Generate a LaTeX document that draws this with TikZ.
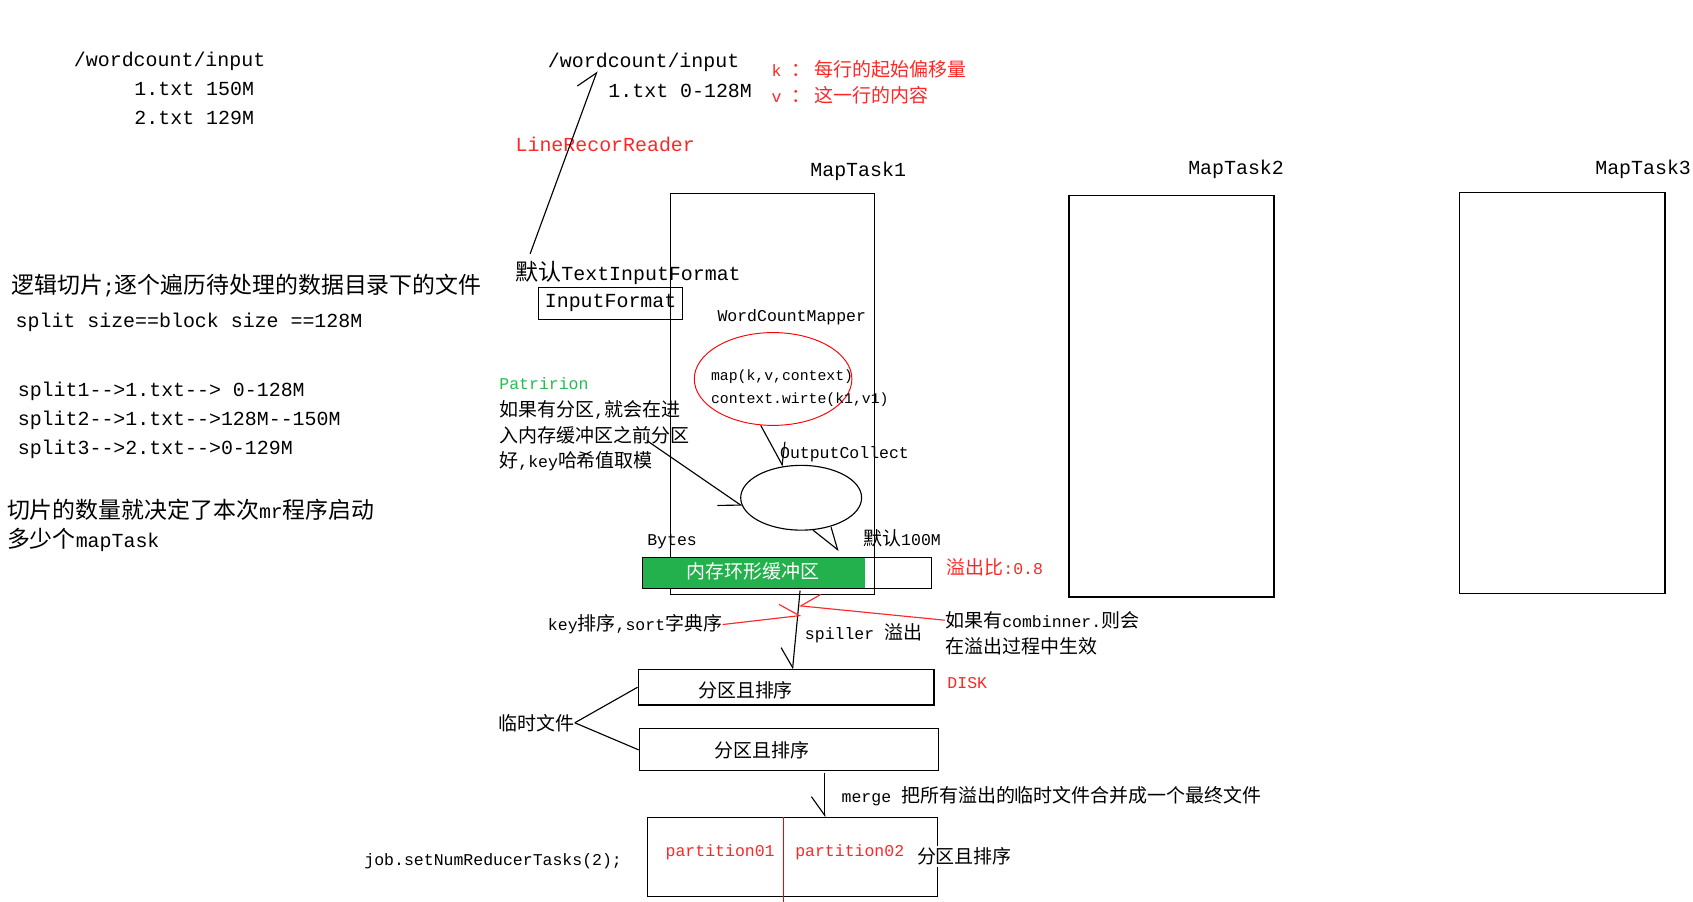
\documentclass[tikz,border=0pt]{standalone}
\usepackage{fontspec}
\setmonofont{Liberation Mono}
\newfontfamily\cjk[Scale=1.15]{Noto Sans CJK SC}
\newcommand{\zh}[1]{{\cjk #1}}
\usetikzlibrary{arrows.meta,shapes.geometric}
\definecolor{bufgreen}{RGB}{34,177,76}
\definecolor{notered}{RGB}{255,38,38}
\definecolor{notegreen}{RGB}{34,190,80}

\tikzset{
  txt/.style={anchor=west, inner sep=0pt, yshift=-0.8pt},
  bigtxt/.style={txt, font=\ttfamily\fontsize{10.5}{12}\selectfont},
  smalltxt/.style={txt, font=\ttfamily\fontsize{8.7}{10}\selectfont},
  tinytxt/.style={txt, font=\ttfamily\fontsize{7.8}{9}\selectfont},
  taskbox/.style={draw, inner sep=0pt},
  barbl/.style={-{Straight Barb[left, length=3.5mm, width=5mm]}},
  barbr/.style={-{Straight Barb[right, length=3.5mm, width=5mm]}},
}

\begin{document}
\begin{tikzpicture}[x=0.02cm, y=-0.02cm, line width=0.6pt]
\useasboundingbox (0,0) rectangle (1568,835);

% input files and splits
\node[bigtxt] (in0) at (68,55) {/wordcount/input};
\node[bigtxt] (f1) at (124,81) {1.txt 150M};
\node[bigtxt] (f2) at (124,108) {2.txt 129M};
\node[bigtxt] (cut) at (10,263) {\zh{逻辑切片};\zh{逐个遍历待处理的数据目录下的文件}};
\node[bigtxt] (ssize) at (14,297) {split size==block size ==128M};
\node[bigtxt] (s1) at (16,361) {split1-->1.txt--> 0-128M};
\node[bigtxt] (s2) at (16,388) {split2-->1.txt-->128M--150M};
\node[bigtxt] (s3) at (16,415) {split3-->2.txt-->0-129M};
\node[bigtxt] (num1) at (6,471) {\zh{切片的数量就决定了本次}mr\zh{程序启动}};
\node[bigtxt] (num2) at (6,499) {\zh{多少个}mapTask};

% reader
\node[bigtxt] (in1) at (507,56) {/wordcount/input};
\node[bigtxt] (blk) at (563,83) {1.txt 0-128M};
\node[smalltxt, text=notered] (kk) at (714,63) {k \zh{： 每行的起始偏移量}};
\node[smalltxt, text=notered] (vv) at (714,87) {v \zh{： 这一行的内容}};
\node[bigtxt, text=notered] (lrr) at (477,132) {LineRecorReader};

% map tasks
\node[taskbox, minimum width=3.78cm, minimum height=7.44cm] (task1) at (715.5,365) {};
\node[taskbox, minimum width=3.8cm, minimum height=7.44cm] (task2) at (1085,367) {};
\node[taskbox, minimum width=3.8cm, minimum height=7.44cm] (task3) at (1447,364) {};
\node[bigtxt] (mt1) at (750,157) {MapTask1};
\node[bigtxt] (mt2) at (1100,155) {MapTask2};
\node[bigtxt] (mt3) at (1477,155) {MapTask3};

\node[bigtxt] (tif) at (477,251) {\zh{默认}TextInputFormat};
\node[taskbox, minimum width=2.66cm, minimum height=0.6cm,
  font=\ttfamily\fontsize{10.5}{12}\selectfont] (infmt) at (565.5,281) {InputFormat};
\node[smalltxt] (wcm) at (664,292) {WordCountMapper};

\node[ellipse, draw=red, line width=0.5pt, minimum width=2.92cm, minimum height=1.72cm] (rmap) at (716,351) {};
\node[tinytxt] (map1) at (658,347) {map(k,v,context)};
\node[tinytxt] (map2) at (658,369) {context.wirte(k1,v1)};
\node[smalltxt] (oc) at (722,419) {OutputCollect};
\node[ellipse, draw, minimum width=2.24cm, minimum height=1.2cm] (coll) at (742,461) {};

\node[smalltxt, text=notegreen] (pat) at (462,354) {Patririon};
\node[smalltxt] (pat1) at (462,378) {\zh{如果有分区},\zh{就会在进}};
\node[smalltxt] (pat2) at (462,402) {\zh{入内存缓冲区之前分区}};
\node[smalltxt] (pat3) at (462,426) {\zh{好},key\zh{哈希值取模}};

% ring buffer
\fill[bufgreen] (595,516) rectangle (801,545);
\node[taskbox, minimum width=5.36cm, minimum height=0.58cm] (buf) at (729,530.5) {};
\node[smalltxt, text=white] (buftxt) at (635,528) {\zh{内存环形缓冲区}};
\node[smalltxt] (bytes) at (599,500) {Bytes};
\node[smalltxt] (m100) at (799,497) {\zh{默认}100M};
\node[smalltxt, text=notered] (ratio) at (876,524) {\zh{溢出比}:0.8};

% spill
\node[smalltxt] (key) at (507,577) {key\zh{排序},sort\zh{字典序}};
\node[smalltxt] (spill) at (745,585) {spiller \zh{溢出}};
\node[smalltxt] (comb) at (875,573) {\zh{如果有}combinner.\zh{则会}};
\node[smalltxt] (comb2) at (875,597) {\zh{在溢出过程中生效}};
\node[smalltxt, text=notered] (disk) at (877,631) {DISK};

\node[taskbox, minimum width=5.48cm, minimum height=0.66cm] (part1) at (728,636.5) {};
\node[taskbox, minimum width=5.54cm, minimum height=0.78cm] (part2) at (730.5,694.5) {};
\node[smalltxt] (p1txt) at (646,638) {\zh{分区且排序}};
\node[smalltxt] (p2txt) at (661,693) {\zh{分区且排序}};
\node[smalltxt] (tmp) at (461,668) {\zh{临时文件}};

% merge
\node[smalltxt] (mrg) at (779,736) {merge \zh{把所有溢出的临时文件合并成一个最终文件}};
\node[taskbox, minimum width=5.36cm, minimum height=1.46cm] (fin) at (734,793.5) {};
\coordinate (dv) at (726,835);
\draw[red] (dv |- fin.north) -- (dv);
\node[smalltxt, text=notered] (pt1) at (616,788) {partition01};
\node[smalltxt, text=notered] (pt2) at (736,788) {partition02};
\node[smalltxt, fill=white, inner sep=1pt] (fintxt) at (847,792) {\zh{分区且排序}};
\node[smalltxt] (job) at (337,796) {job.setNumReducerTasks(2);};

% connectors
\coordinate (lrrA) at (491,235);
\coordinate (lrrB) at (553,66);
\coordinate (patA) at (599,408);
\coordinate (bufA) at (777,510);
\coordinate (spA) at (741,547);
\coordinate (spB) at (734,620);
\coordinate (mgA) at (764,716);
\coordinate (mgB) at (764,757);
\coordinate (kyB) at (742,570);
\coordinate (cmB) at (740,561);

\draw[barbl] (lrrA) -- (lrrB);
\draw[barbl] (rmap.-105) -- (coll.120);
\draw[barbr] (patA) -- (coll.188);
\draw[barbl] (coll.-70) -- (bufA);
\draw[barbr] (spA) -- (spB);
\draw[barbr] (mgA) -- (mgB);
\draw[notered, barbl] (key.east) -- (kyB);
\draw[notered, barbr] (comb.west) -- (cmB);
\draw (tmp.east) -- (part1.west);
\draw (tmp.east) -- (part2.west);
\end{tikzpicture}
\end{document}
